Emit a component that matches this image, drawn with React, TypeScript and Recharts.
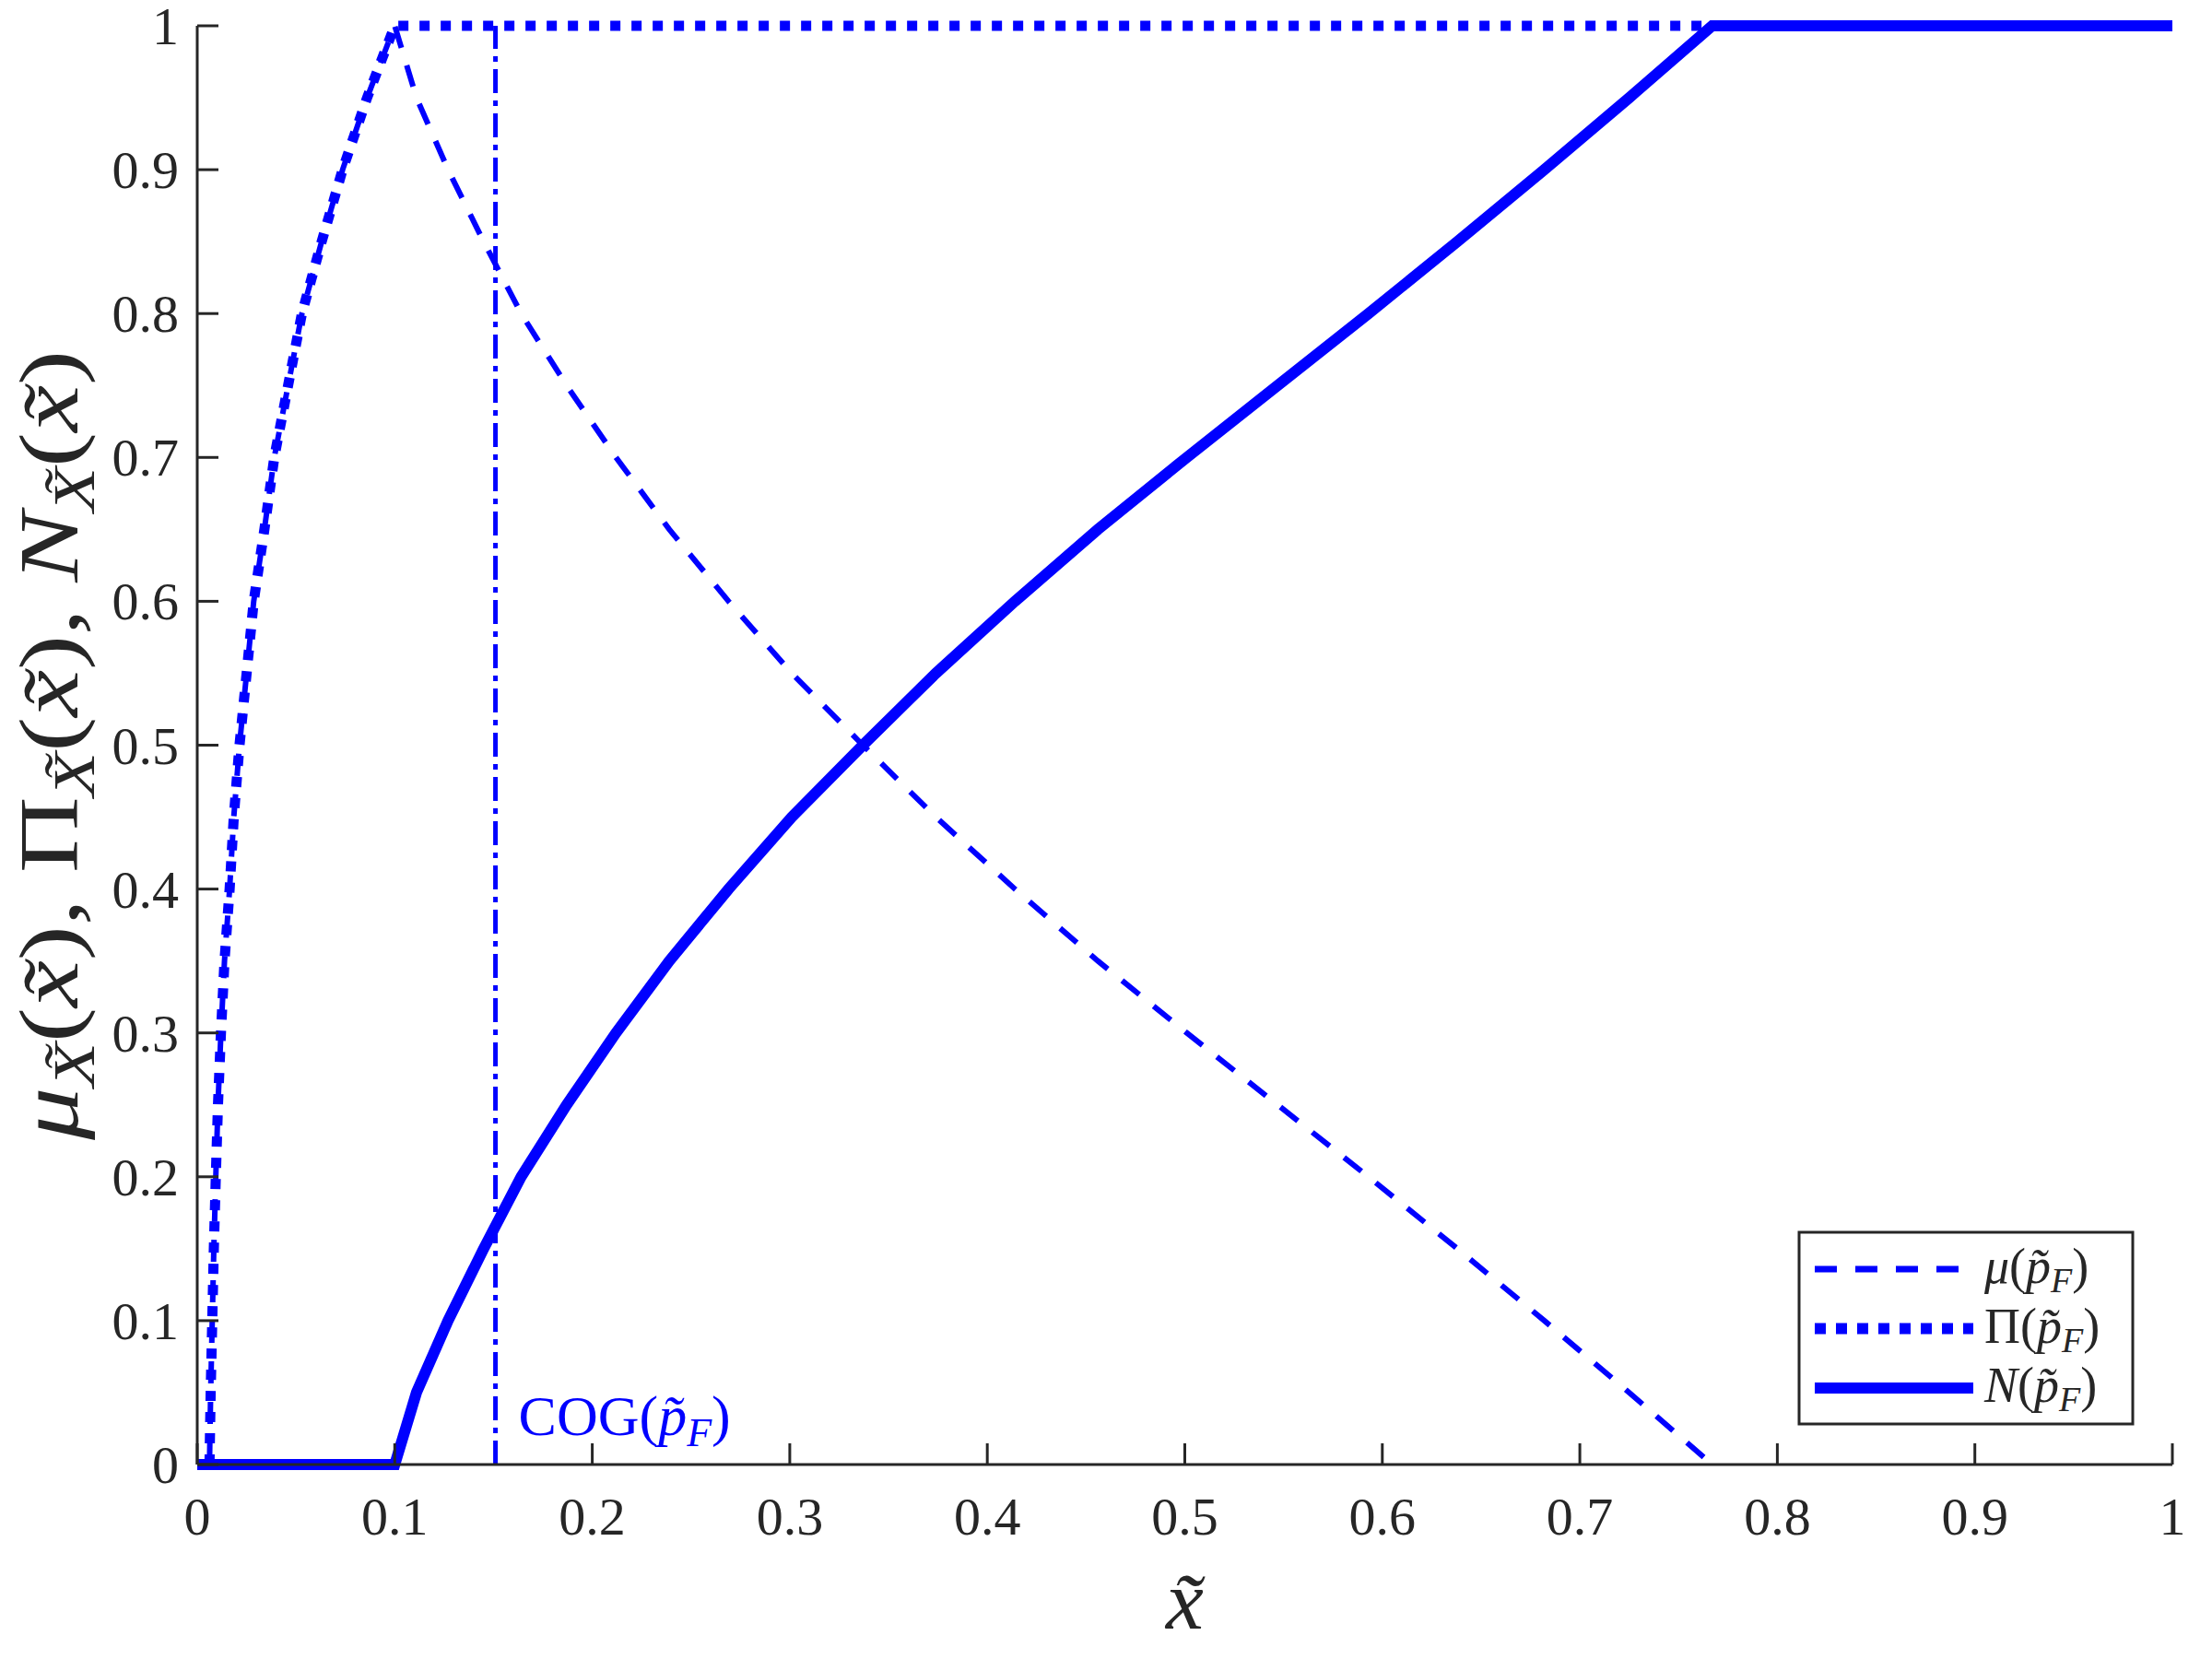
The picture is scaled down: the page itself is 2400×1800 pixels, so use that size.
import React from "react";
import { ComposedChart, Line, XAxis, YAxis, ReferenceLine } from "recharts";

const BLUE = "#0000ff";
const INK = "#262626";
const FONT = "'Liberation Serif', 'Times New Roman', serif";

const alphaLevels = [
  0, 0.05, 0.1, 0.15, 0.2, 0.25, 0.3, 0.35, 0.4, 0.45, 0.5,
  0.55, 0.6, 0.65, 0.7, 0.75, 0.8, 0.85, 0.9, 0.95, 1,
];
const leftX = [
  0.0062, 0.0068, 0.0076, 0.0084, 0.0094, 0.0105, 0.012, 0.0138, 0.0164, 0.0185, 0.0214,
  0.025, 0.0286, 0.034, 0.039, 0.046, 0.053, 0.063, 0.0736, 0.086, 0.1,
];
const rightX = [
  0.767, 0.725, 0.682, 0.638, 0.593, 0.547, 0.501, 0.456, 0.414, 0.374, 0.337,
  0.301, 0.269, 0.239, 0.212, 0.187, 0.164, 0.145, 0.127, 0.111, 0.1,
];
const cogX = 0.151;

const xTicks = [0, 0.1, 0.2, 0.3, 0.4, 0.5, 0.6, 0.7, 0.8, 0.9, 1];
const yTicks = [0, 0.1, 0.2, 0.3, 0.4, 0.5, 0.6, 0.7, 0.8, 0.9, 1];

const rising = leftX.map((x, i) => ({ x, y: alphaLevels[i] }));
const falling = rightX.map((x, i) => ({ x, y: alphaLevels[i] })).reverse();

const muData = [...rising, ...falling.slice(1)];
const piData = [...rising, { x: 1, y: 1 }];
const necData = [
  { x: 0, y: 0 },
  ...rightX.map((x, i) => ({ x, y: 1 - alphaLevels[i] })).reverse(),
  { x: 1, y: 1 },
];

const TICK_LEN = 23;

function BottomTick(props: any) {
  const { x, y, payload } = props;
  return (
    <g>
      <line x1={x} x2={x} y1={y} y2={y - TICK_LEN} stroke={INK} strokeWidth={3} />
      <text x={x} y={y + 76} textAnchor="middle" fontSize={58} fontFamily={FONT} fill={INK}>
        {String(payload.value)}
      </text>
    </g>
  );
}

function LeftTick(props: any) {
  const { x, y, payload } = props;
  return (
    <g>
      <line x1={x} x2={x + TICK_LEN} y1={y} y2={y} stroke={INK} strokeWidth={3} />
      <text x={x - 20} y={y + 20} textAnchor="end" fontSize={58} fontFamily={FONT} fill={INK}>
        {String(payload.value)}
      </text>
    </g>
  );
}

function TopTick(props: any) {
  const { x, y } = props;
  return <line x1={x} x2={x} y1={y} y2={y + TICK_LEN} stroke={INK} strokeWidth={3} />;
}

function RightTick(props: any) {
  const { x, y } = props;
  return <line x1={x} x2={x - TICK_LEN} y1={y} y2={y} stroke={INK} strokeWidth={3} />;
}

function YLabel(props: any) {
  const vb = props.viewBox;
  const cx = vb.x - 30;
  const cy = vb.y + vb.height / 2;
  return (
    <text
      transform={`translate(${cx},${cy}) rotate(-90)`}
      textAnchor="middle"
      fontSize={92}
      fontFamily={FONT}
      fill={INK}
      textLength={857}
      lengthAdjust="spacingAndGlyphs"
    >
      <tspan fontStyle="italic">μ</tspan>
      <tspan fontStyle="italic" fontSize={64} dy={18}>X̃</tspan>
      <tspan dy={-18}>(</tspan>
      <tspan fontStyle="italic">x̃</tspan>
      <tspan>), Π</tspan>
      <tspan fontStyle="italic" fontSize={64} dy={18}>X̃</tspan>
      <tspan dy={-18}>(</tspan>
      <tspan fontStyle="italic">x̃</tspan>
      <tspan>), </tspan>
      <tspan fontStyle="italic">N</tspan>
      <tspan fontStyle="italic" fontSize={64} dy={18}>X̃</tspan>
      <tspan dy={-18}>(</tspan>
      <tspan fontStyle="italic">x̃</tspan>
      <tspan>)</tspan>
    </text>
  );
}

function XLabel(props: any) {
  const vb = props.viewBox;
  return (
    <text
      x={vb.x + vb.width / 2}
      y={1767}
      textAnchor="middle"
      fontSize={92}
      fontStyle="italic"
      fontFamily={FONT}
      fill={INK}
    >
      x̃
    </text>
  );
}

function CogLabel(props: any) {
  const vb = props.viewBox;
  return (
    <text x={vb.x + 25} y={vb.y + vb.height - 32} fontSize={62} fontFamily={FONT} fill={BLUE}>
      <tspan>COG(</tspan>
      <tspan fontStyle="italic">p̃</tspan>
      <tspan fontStyle="italic" fontSize={44} dy={12}>F</tspan>
      <tspan dy={-12}>)</tspan>
    </text>
  );
}

function PLabel({ head, italic }: { head: string; italic: boolean }) {
  return (
    <>
      <tspan fontStyle={italic ? "italic" : "normal"}>{head}</tspan>
      <tspan>(</tspan>
      <tspan fontStyle="italic">p̃</tspan>
      <tspan fontStyle="italic" fontSize={38} dy={10}>F</tspan>
      <tspan dy={-10}>)</tspan>
    </>
  );
}

const legendRows = [
  { head: "μ", italic: true, dash: "24 20", width: 7 },
  { head: "Π", italic: false, dash: "12 11", width: 12 },
  { head: "N", italic: true, dash: undefined, width: 12 },
];

function LegendBox() {
  return (
    <svg
      width={366}
      height={212}
      style={{ position: "absolute", left: 1950, top: 1335 }}
    >
      <rect x={2} y={2} width={362} height={208} fill="#fff" stroke={INK} strokeWidth={3} />
      {legendRows.map((r, i) => {
        const cy = 42 + i * 64.5;
        return (
          <g key={r.head}>
            <line
              x1={19}
              x2={191}
              y1={cy}
              y2={cy}
              stroke={BLUE}
              strokeWidth={r.width}
              strokeDasharray={r.dash}
            />
            <text x={203} y={cy + 15} fontSize={54} fontFamily={FONT} fill={INK}>
              <PLabel head={r.head} italic={r.italic} />
            </text>
          </g>
        );
      })}
    </svg>
  );
}

export default function App() {
  return (
    <div
      style={{
        position: "absolute",
        left: 0,
        top: 0,
        width: 2400,
        height: 1800,
        background: "#fff",
      }}
    >
      <ComposedChart
        width={2400}
        height={1800}
        margin={{ top: 28, right: 43, bottom: 151, left: 114 }}
      >
        <XAxis
          xAxisId="b"
          type="number"
          dataKey="x"
          domain={[0, 1]}
          ticks={xTicks}
          height={60}
          tickSize={0}
          tickMargin={0}
          tick={<BottomTick />}
          axisLine={{ stroke: INK, strokeWidth: 3 }}
          label={<XLabel />}
        />
        <XAxis
          xAxisId="t"
          orientation="top"
          type="number"
          dataKey="x"
          domain={[0, 1]}
          ticks={xTicks}
          height={0}
          tickSize={0}
          tickMargin={0}
          tick={<TopTick />}
          axisLine={{ stroke: INK, strokeWidth: 3 }}
        />
        <YAxis
          yAxisId="l"
          type="number"
          domain={[0, 1]}
          ticks={yTicks}
          width={100}
          tickSize={0}
          tickMargin={0}
          tick={<LeftTick />}
          axisLine={{ stroke: INK, strokeWidth: 3 }}
          label={<YLabel />}
        />
        <YAxis
          yAxisId="r"
          orientation="right"
          type="number"
          domain={[0, 1]}
          ticks={yTicks}
          width={0}
          tickSize={0}
          tickMargin={0}
          tick={<RightTick />}
          axisLine={{ stroke: INK, strokeWidth: 3 }}
        />
        <ReferenceLine
          xAxisId="b"
          yAxisId="l"
          x={cogX}
          stroke={BLUE}
          strokeWidth={5}
          strokeDasharray="26 8 6 8"
          label={<CogLabel />}
        />
        <Line
          xAxisId="b"
          yAxisId="l"
          data={muData}
          dataKey="y"
          type="linear"
          stroke={BLUE}
          strokeWidth={6}
          strokeDasharray="24 20"
          dot={false}
          isAnimationActive={false}
        />
        <Line
          xAxisId="b"
          yAxisId="l"
          data={piData}
          dataKey="y"
          type="linear"
          stroke={BLUE}
          strokeWidth={11}
          strokeDasharray="11 12"
          dot={false}
          isAnimationActive={false}
        />
        <Line
          xAxisId="b"
          yAxisId="l"
          data={necData}
          dataKey="y"
          type="linear"
          stroke={BLUE}
          strokeWidth={12}
          dot={false}
          isAnimationActive={false}
        />
      </ComposedChart>
      <LegendBox />
    </div>
  );
}
